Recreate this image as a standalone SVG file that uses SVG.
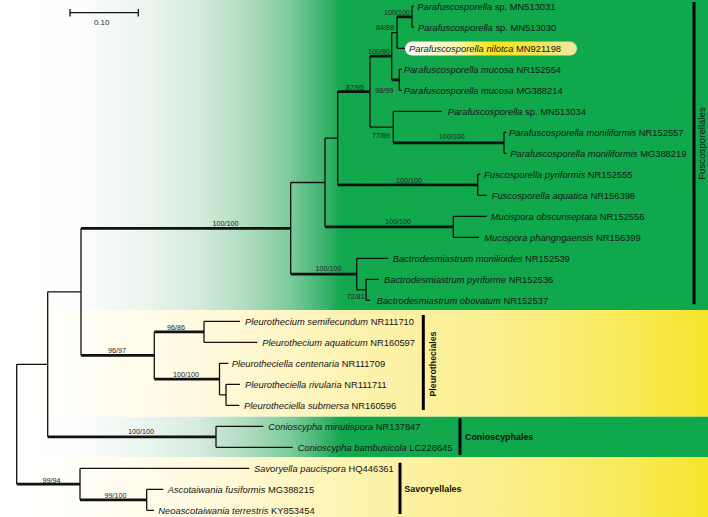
<svg xmlns="http://www.w3.org/2000/svg" width="708" height="517" viewBox="0 0 708 517">
<defs>
<linearGradient id="gGreen" gradientUnits="userSpaceOnUse" x1="0" y1="0" x2="708" y2="0">
<stop offset="0" stop-color="#ffffff"/>
<stop offset="0.1" stop-color="#fdfefd"/>
<stop offset="0.16" stop-color="#f4f9f6"/>
<stop offset="0.212" stop-color="#e9f4ed"/>
<stop offset="0.282" stop-color="#d3ebdb"/>
<stop offset="0.353" stop-color="#acdabd"/>
<stop offset="0.41" stop-color="#7ccb9a"/>
<stop offset="0.452" stop-color="#45b673"/>
<stop offset="0.482" stop-color="#12a84d"/>
<stop offset="1" stop-color="#10a84c"/>
</linearGradient>
<linearGradient id="gYellow" gradientUnits="userSpaceOnUse" x1="0" y1="0" x2="708" y2="0">
<stop offset="0" stop-color="#ffffff"/>
<stop offset="0.085" stop-color="#fffffb"/>
<stop offset="0.28" stop-color="#fffae0"/>
<stop offset="0.49" stop-color="#fdf3b2"/>
<stop offset="0.71" stop-color="#fbee8c"/>
<stop offset="0.876" stop-color="#f9ea5c"/>
<stop offset="1" stop-color="#f6e42a"/>
</linearGradient>
<linearGradient id="gHi" x1="0" y1="0" x2="1" y2="0">
<stop offset="0" stop-color="#ffffff"/>
<stop offset="0.3" stop-color="#fbf6b0"/>
<stop offset="0.5" stop-color="#f5e41e"/>
<stop offset="0.75" stop-color="#f1e350"/>
<stop offset="1" stop-color="#efe9a2"/>
</linearGradient>
</defs>
<style>
.br{fill:none;stroke:#111;stroke-width:1.3}
.bt{fill:none;stroke:#111;stroke-width:2.7}
.bar{fill:none;stroke:#000;stroke-width:3}
.tx{font-family:"Liberation Sans",Arial,sans-serif;font-size:9.35px;fill:#151515}
.tx .i{font-style:italic}
.sp{font-family:"Liberation Sans",Arial,sans-serif;font-size:7.2px;fill:#222}
.ord{font-family:"Liberation Sans",Arial,sans-serif;font-size:9px;font-weight:bold;fill:#111}
.ordr{font-family:"Liberation Sans",Arial,sans-serif;font-size:9.7px;fill:#1a1a1a}
</style>
<g id="backgrounds">
<rect x="0" y="0" width="708" height="310" fill="url(#gGreen)"/>
<rect x="0" y="310" width="708" height="106.7" fill="url(#gYellow)"/>
<rect x="0" y="416.7" width="708" height="40.6" fill="url(#gGreen)"/>
<rect x="0" y="457.3" width="708" height="59.7" fill="url(#gYellow)"/>
</g>
<g id="scalebar">
<path class="br" d="M70,12.7 H138.3 M70,9 V16.4 M138.3,9 V16.4" stroke-width="1.5"/>
<text x="101.7" y="24.8" text-anchor="middle" font-family="Liberation Sans, Arial, sans-serif" font-size="8" fill="#333">0.10</text>
</g>
<g id="connectors">
<path class="br" d="M412,6.3 V27.3 M397,16.8 V48.3 M399.3,69.3 V90.3 M391.7,32.55 V79.8 M504,132.3 V153.3 M393.3,111.3 V142.8 M370,56.2 V127.05 M477.7,174.3 V195.3 M337.7,91.6 V184.8 M453.3,216.3 V237.3 M325,138.2 V226.8 M366,279.3 V300.3 M356.7,258.3 V289.8 M290.7,182.5 V274.05 M204,321.3 V342.3 M226,384.3 V405.3 M219.5,363.3 V394.8 M154.3,331.8 V379.05 M81,228.3 V355.4 M216,426.3 V447.3 M47.7,291.85 V436.8 M146.7,489.3 V510.3 M80,468.3 V499.8 M16.7,364.3 V484.05"/>
<path class="bt" d="M397,16.8 H412 M370,56.2 H391.7 M391.7,79.8 H399.3 M337.7,91.6 H370 M393.3,142.8 H504 M337.7,184.8 H477.7 M325,226.8 H453.3 M290.7,274.05 H356.7 M81,228.3 H290.7 M81,355.4 H154.3 M154.3,331.8 H204 M154.3,379.05 H219.5 M47.7,436.8 H216 M16.7,484.05 H80 M80,499.8 H146.7"/>
<path class="br" d="M391.7,32.55 H397 M370,127.05 H393.3 M325,138.2 H337.7 M290.7,182.5 H325 M356.7,289.8 H366 M219.5,394.8 H226 M47.7,291.85 H81 M16.7,364.3 H47.7"/>
<path class="br" d="M412,6.3 H414 M412,27.3 H414 M397,48.3 H405 M399.3,69.3 H402 M399.3,90.3 H402 M393.3,111.3 H441.7 M504,132.3 H506.5 M504,153.3 H506.5 M477.7,174.3 H480.5 M477.7,195.3 H486.7 M453.3,216.3 H486.7 M453.3,237.3 H479 M356.7,258.3 H388.3 M366,279.3 H379 M366,300.3 H370 M204,321.3 H240 M204,342.3 H257.3 M219.5,363.3 H228.3 M226,384.3 H240 M226,405.3 H239.3 M216,426.3 H263.3 M216,447.3 H292.7 M80,468.3 H249.3 M146.7,489.3 H163.3 M146.7,510.3 H154"/>
</g>
<g id="supports">
<text class="sp" x="410" y="14.8" text-anchor="end">100/100</text>
<text class="sp" x="394" y="30.2" text-anchor="end">84/88</text>
<text class="sp" x="390" y="54.2" text-anchor="end">100/90</text>
<text class="sp" x="393.3" y="93.2" text-anchor="end">98/99</text>
<text class="sp" x="364" y="89.8" text-anchor="end">87/95</text>
<text class="sp" x="390" y="137.5" text-anchor="end">77/89</text>
<text class="sp" x="451.7" y="139.2" text-anchor="middle">100/100</text>
<text class="sp" x="409" y="182.5" text-anchor="middle">100/100</text>
<text class="sp" x="398" y="224.2" text-anchor="middle">100/100</text>
<text class="sp" x="328.5" y="270.8" text-anchor="middle">100/100</text>
<text class="sp" x="364.7" y="298.5" text-anchor="end">72/81</text>
<text class="sp" x="225.5" y="225.8" text-anchor="middle">100/100</text>
<text class="sp" x="117" y="352.5" text-anchor="middle">96/97</text>
<text class="sp" x="176" y="329.8" text-anchor="middle">96/86</text>
<text class="sp" x="186" y="376.5" text-anchor="middle">100/100</text>
<text class="sp" x="141" y="434.2" text-anchor="middle">100/100</text>
<text class="sp" x="51.5" y="482.5" text-anchor="middle">99/94</text>
<text class="sp" x="115.5" y="497.5" text-anchor="middle">99/100</text>
</g>
<g id="t00"><text class="tx" x="417.3" y="9.65"><tspan class="i">Parafuscosporella</tspan> sp. MN513031</text></g>
<g id="t01"><text class="tx" x="418" y="30.65"><tspan class="i">Parafuscosporella</tspan> sp. MN513030</text></g>
<g id="t02"><rect x="405" y="41.6" width="172" height="14" rx="7" ry="7" fill="url(#gHi)"/><text class="tx" x="409" y="51.65"><tspan class="i">Parafuscosporella nilotca</tspan> MN921198</text></g>
<g id="t03"><text class="tx" x="403.7" y="72.65"><tspan class="i">Parafuscosporella mucosa</tspan> NR152554</text></g>
<g id="t04"><text class="tx" x="403.7" y="93.65"><tspan class="i">Parafuscosporella mucosa</tspan> MG388214</text></g>
<g id="t05"><text class="tx" x="447.7" y="114.65"><tspan class="i">Parafuscosporella</tspan> sp. MN513034</text></g>
<g id="t06"><text class="tx" x="509" y="135.65"><tspan class="i">Parafuscosporella moniliformis</tspan> NR152557</text></g>
<g id="t07"><text class="tx" x="510.3" y="156.65"><tspan class="i">Parafuscosporella moniliformis</tspan> MG388219</text></g>
<g id="t08"><text class="tx" x="484" y="177.65"><tspan class="i">Fuscosporella pyriformis</tspan> NR152555</text></g>
<g id="t09"><text class="tx" x="491.7" y="198.65"><tspan class="i">Fuscosporella aquatica</tspan> NR156398</text></g>
<g id="t10"><text class="tx" x="490.7" y="219.65"><tspan class="i">Mucispora obscuriseptata</tspan> NR152556</text></g>
<g id="t11"><text class="tx" x="484.3" y="240.65"><tspan class="i">Mucispora phangngaensis</tspan> NR156399</text></g>
<g id="t12"><text class="tx" x="392.7" y="261.65"><tspan class="i">Bactrodesmiastrum monilioides</tspan> NR152539</text></g>
<g id="t13"><text class="tx" x="384" y="282.65"><tspan class="i">Bactrodesmiastrum pyriforme</tspan> NR152536</text></g>
<g id="t14"><text class="tx" x="376.7" y="303.65"><tspan class="i">Bactrodesmiastrum obovatum</tspan> NR152537</text></g>
<g id="t15"><text class="tx" x="245" y="324.65"><tspan class="i">Pleurothecium semifecundum</tspan> NR111710</text></g>
<g id="t16"><text class="tx" x="262.3" y="345.65"><tspan class="i">Pleurothecium aquaticum</tspan> NR160597</text></g>
<g id="t17"><text class="tx" x="231.7" y="366.65"><tspan class="i">Pleurotheciella centenaria</tspan> NR111709</text></g>
<g id="t18"><text class="tx" x="245" y="387.65"><tspan class="i">Pleurotheciella rivularia</tspan> NR111711</text></g>
<g id="t19"><text class="tx" x="244" y="408.65"><tspan class="i">Pleurotheciella submersa</tspan> NR160596</text></g>
<g id="t20"><text class="tx" x="268.3" y="429.65"><tspan class="i">Conioscypha minutispora</tspan> NR137847</text></g>
<g id="t21"><text class="tx" x="297.7" y="450.65"><tspan class="i">Conioscypha bambusicola</tspan> LC228645</text></g>
<g id="t22"><text class="tx" x="254" y="471.65"><tspan class="i">Savoryella paucispora</tspan> HQ446361</text></g>
<g id="t23"><text class="tx" x="167.7" y="492.65"><tspan class="i">Ascotaiwania fusiformis</tspan> MG388215</text></g>
<g id="t24"><text class="tx" x="158.3" y="513.65"><tspan class="i">Neoascotaiwania terrestris</tspan> KY853454</text></g>
<g id="ord-fusco"><path class="bar" d="M694,2 V304.3"/><text class="ordr" transform="translate(705.3,143.5) rotate(-90)" text-anchor="middle">Fuscosporellales</text></g>
<g id="ord-pleuro"><path class="bar" d="M423.3,315 V410"/><text class="ord" transform="translate(436.3,364) rotate(-90)" text-anchor="middle" textLength="65" lengthAdjust="spacingAndGlyphs">Pleurotheciales</text></g>
<g id="ord-conio"><path class="bar" d="M460,418.3 V455"/><text class="ord" x="465" y="440" textLength="68.3" lengthAdjust="spacingAndGlyphs">Conioscyphales</text></g>
<g id="ord-savory"><path class="bar" d="M400,462.7 V514"/><text class="ord" x="404.3" y="492.3" textLength="57.3" lengthAdjust="spacingAndGlyphs">Savoryellales</text></g>
</svg>
